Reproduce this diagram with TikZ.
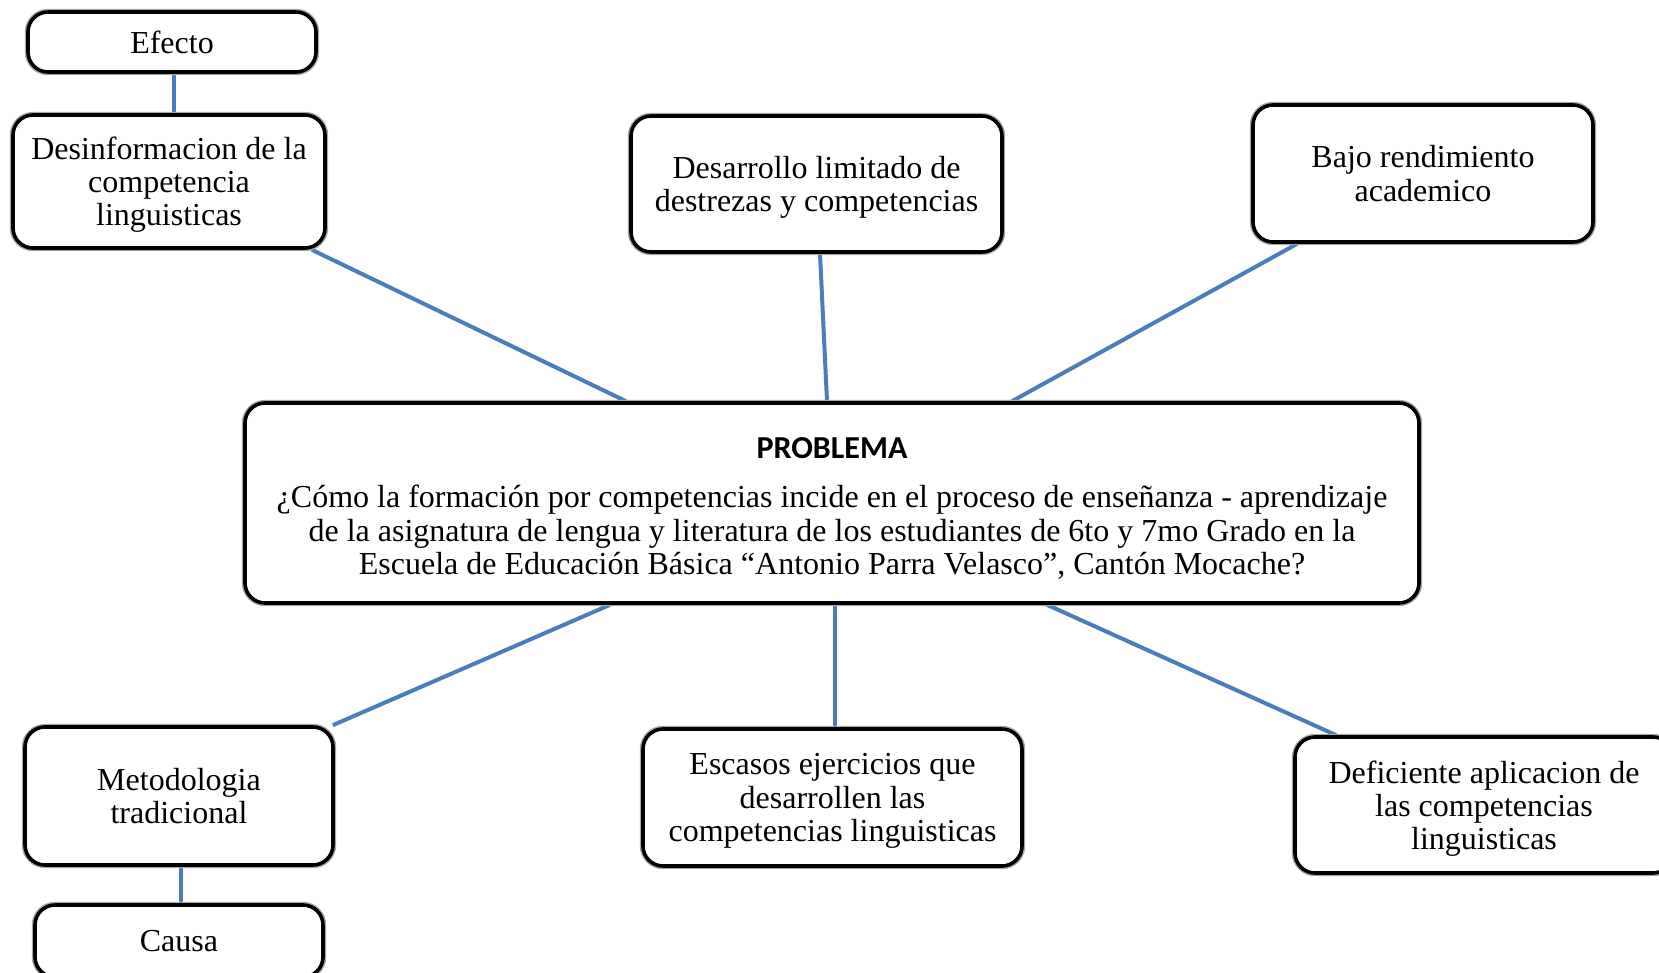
\documentclass[tikz,border=0pt]{standalone}
\usepackage{fontspec}
\setmainfont{Liberation Serif}
\newfontfamily\calibfont{Carlito}
\usetikzlibrary{backgrounds}
\definecolor{linkblue}{HTML}{4A7EBB}
\tikzset{
  box/.style={draw=black, line width=1.8pt, rounded corners=10pt, fill=white,
    align=center, font=\fontsize{16}{16.6}\selectfont, inner sep=2pt,
    preaction={draw=black!35, line width=3.2pt}},
  mline/.style={text depth=0pt},
  link/.style={draw=linkblue, line width=2pt},
}
\begin{document}
\begin{tikzpicture}[x=0.5pt,y=-0.5pt]
\useasboundingbox (0,0) rectangle (1659,973);
\node[box, minimum width=144pt, minimum height=30pt] (efecto) at (172,42) {Efecto};
\node[box, mline, minimum width=156pt, minimum height=66.5pt] (desinfo) at (169,181.5) {Desinformacion de la\\competencia\\linguisticas};
\node[box, mline, minimum width=185.5pt, minimum height=68pt] (desarrollo) at (816.5,184) {Desarrollo limitado de\\destrezas y competencias};
\node[box, mline, minimum width=170pt, minimum height=68.5pt] (bajo) at (1423,173.5) {Bajo rendimiento\\academico};
\node[box, mline, minimum width=587pt, minimum height=100pt] (prob) at (832,503)
  {\rule{0pt}{13.5pt}{\calibfont\bfseries PROBLEMA}\\[8pt]
   ¿Cómo la formación por competencias incide en el proceso de enseñanza - aprendizaje\\
   de la asignatura de lengua y literatura de los estudiantes de 6to y 7mo Grado en la\\
   Escuela de Educación Básica “Antonio Parra Velasco”, Cantón Mocache?};
\node[box, mline, minimum width=154pt, minimum height=69pt] (metod) at (179,796) {Metodologia\\tradicional};
\node[box, minimum width=144pt, minimum height=36pt] (causa) at (179,941) {Causa};
\node[box, mline, minimum width=189.5pt, minimum height=68.5pt] (escasos) at (832.5,797.5) {Escasos ejercicios que\\desarrollen las\\competencias linguisticas};
\node[box, mline, minimum width=189pt, minimum height=68pt] (defic) at (1484,805) {Deficiente aplicacion de\\las competencias\\linguisticas};
\begin{scope}[on background layer]
\draw[link] ([xshift=1pt]efecto.south) -- ([xshift=1pt]efecto.south |- desinfo.north);
\draw[link] ([xshift=-7.5pt]desinfo.south east) -- ([xshift=-103pt]prob.north);
\draw[link] ([xshift=1.75pt]desarrollo.south) -- ([xshift=-2.5pt]prob.north);
\draw[link] ([xshift=23pt]bajo.south west) -- ([xshift=90pt]prob.north);
\draw[link] ([xshift=-111pt]prob.south) -- ([xshift=-1pt]metod.north east);
\draw[link] ([xshift=1.5pt]prob.south) -- ([xshift=1.5pt]prob.south |- escasos.north);
\draw[link] ([xshift=107.5pt]prob.south) -- ([xshift=21.5pt]defic.north west);
\draw[link] ([xshift=1pt]metod.south) -- ([xshift=1pt]metod.south |- causa.north);
\end{scope}
\end{tikzpicture}
\end{document}
